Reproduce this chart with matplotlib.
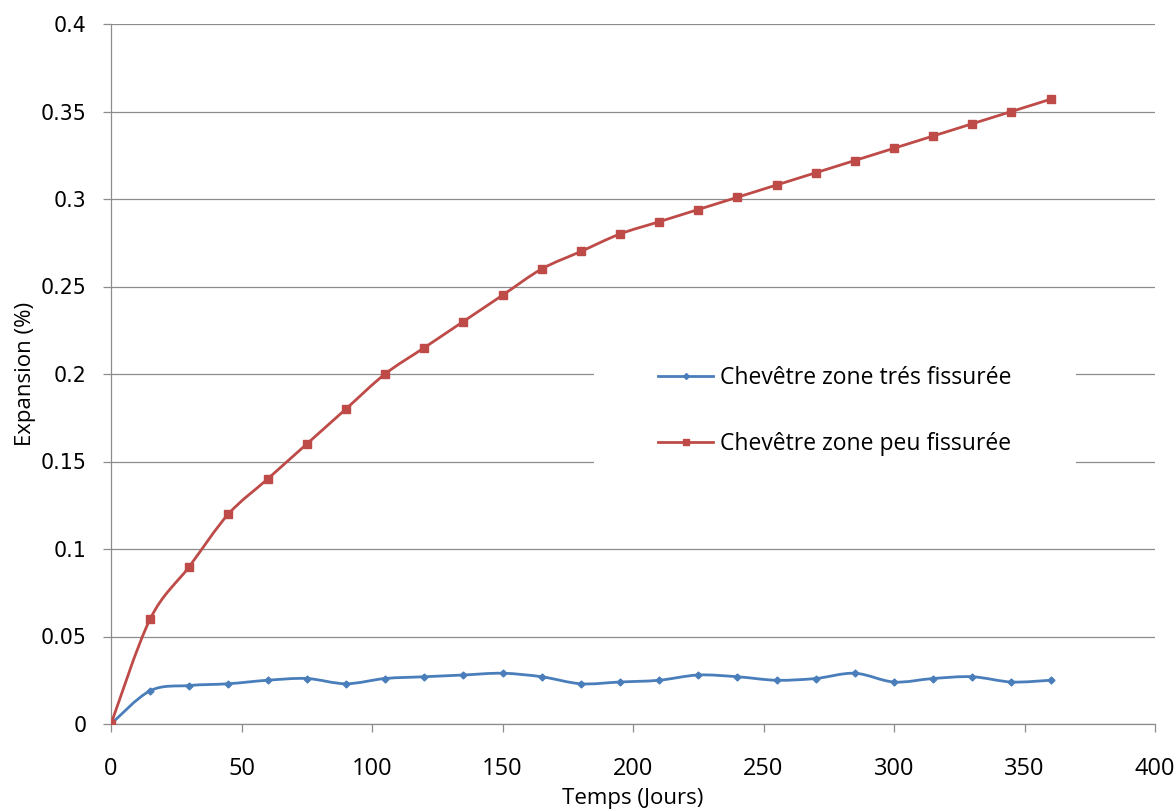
import matplotlib
matplotlib.use("Agg")
import matplotlib.pyplot as plt
from matplotlib.path import Path
from matplotlib.patches import PathPatch
from matplotlib.lines import Line2D
import numpy as np

# data
days = [0, 15, 30, 45, 60, 75, 90, 105, 120, 135, 150, 165, 180,
        195, 210, 225, 240, 255, 270, 285, 300, 315, 330, 345, 360]
tres_fissuree = [0.0, 0.019, 0.022, 0.023, 0.025, 0.026, 0.023, 0.026, 0.027,
                 0.028, 0.029, 0.027, 0.023, 0.024, 0.025, 0.028, 0.027,
                 0.025, 0.026, 0.029, 0.024, 0.026, 0.027, 0.024, 0.025]
peu_fissuree = [0.0, 0.06, 0.09, 0.12, 0.14, 0.16, 0.18, 0.20, 0.215, 0.23,
                0.245, 0.26, 0.27, 0.28, 0.287, 0.294, 0.301, 0.308, 0.315,
                0.322, 0.329, 0.336, 0.343, 0.35, 0.357]
labels = ["Chevêtre zone trés fissurée", "Chevêtre zone peu fissurée"]
x_ticks = [0, 50, 100, 150, 200, 250, 300, 350, 400]
y_ticks = [0, 0.05, 0.1, 0.15, 0.2, 0.25, 0.3, 0.35, 0.4]

blue = "#4A7EBB"
red = "#BE4B48"
grid_col = "#8C8C8C"
text_font = ["Open Sans", "DejaVu Sans"]


def smooth_path(xs, ys):
    # Excel-like smoothed line: Catmull-Rom segments as cubic Beziers
    pts = np.column_stack([xs, ys]).astype(float)
    n = len(pts)
    verts = [pts[0]]
    codes = [Path.MOVETO]
    for i in range(n - 1):
        p0 = pts[max(i - 1, 0)]
        p1 = pts[i]
        p2 = pts[i + 1]
        p3 = pts[min(i + 2, n - 1)]
        c1 = p1 + (p2 - p0) / 6.0
        c2 = p2 - (p3 - p1) / 6.0
        verts += [c1, c2, p2]
        codes += [Path.CURVE4] * 3
    return Path(verts, codes)


fig = plt.figure(figsize=(11.76, 8.11), dpi=100)
ax = fig.add_axes([111 / 1176, 1 - 724 / 811, (1155 - 111) / 1176, 700 / 811])

for ys, col, mk, ms in [(tres_fissuree, blue, "D", 3.5), (peu_fissuree, red, "s", 5.5)]:
    ax.add_patch(PathPatch(smooth_path(days, ys), fill=False, edgecolor=col,
                           lw=2, zorder=3, capstyle="round"))
    ax.plot(days, ys, linestyle="none", marker=mk, ms=ms, color=col, zorder=4)

ax.set_xlim(0, 400)
ax.set_ylim(0, 0.4)
ax.set_xticks(x_ticks)
ax.set_yticks(y_ticks)
ax.set_xticklabels([str(v) for v in x_ticks], fontfamily=text_font, fontsize=17)
ax.set_yticklabels(["0" if v == 0 else ("%g" % v) for v in y_ticks],
                   fontfamily="DejaVu Sans", fontsize=14.8)
ax.yaxis.grid(True, color=grid_col, lw=0.9)
ax.set_axisbelow(True)
for s in ["top", "right"]:
    ax.spines[s].set_visible(False)
for s in ["left", "bottom"]:
    ax.spines[s].set_color(grid_col)
    ax.spines[s].set_linewidth(0.9)
ax.tick_params(axis="both", direction="out", color=grid_col, length=5.5, width=0.9)
ax.tick_params(axis="x", pad=18)
ax.tick_params(axis="y", pad=12)

ax.set_xlabel("Temps (Jours)", fontfamily=text_font, fontsize=16)
ax.set_ylabel("Expansion (%)", fontfamily=text_font, fontsize=16)
ax.xaxis.set_label_coords(0.5, (724 - 788) / 700)
ax.yaxis.set_label_coords((36 - 111) / 1044, 0.5)

handles = [Line2D([], [], color=blue, lw=2, marker="D", ms=3),
           Line2D([], [], color=red, lw=2, marker="s", ms=5)]
leg = ax.legend(handles, labels, loc="center", bbox_to_anchor=(0.6935, 0.447),
                frameon=True, fancybox=False, edgecolor="white", facecolor="white",
                framealpha=1, prop={"family": text_font, "size": 16.5},
                handlelength=2.4, handletextpad=0.3, labelspacing=1.85,
                borderpad=2.8, borderaxespad=0)
leg.get_frame().set_linewidth(0)
leg.set_zorder(5)

fig.savefig("out.png", dpi=100, facecolor="white")
